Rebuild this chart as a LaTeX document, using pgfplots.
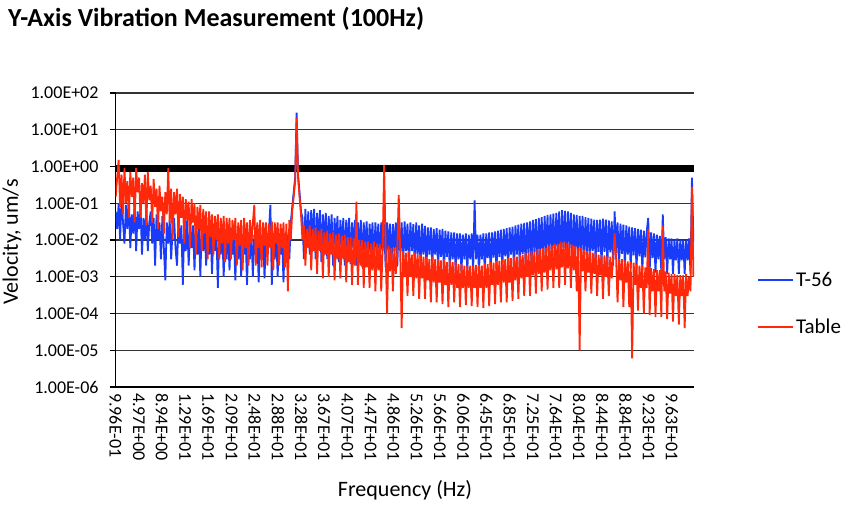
\documentclass[border=0pt]{standalone}
\usepackage{pgfplots}
\pgfplotsset{compat=1.18}
\usepackage{pgfplotstable}
\usepackage{fontspec}
\setmainfont{Carlito}
\definecolor{tblue}{RGB}{25,60,250}
\definecolor{tred}{RGB}{255,40,10}
\pgfplotstableread{
f b r
1.00 0.06 0.15
1.25 0.02 0.5
1.50 0.1 1.5
1.75 0.01 0.08
2.00 0.15 0.6
2.25 0.03 0.05
2.50 0.008 0.9
2.75 0.09 0.1
3.00 0.02 0.4
3.25 0.12 0.04
3.50 0.006 0.7
3.75 0.05 0.15
4.00 0.015 0.5
4.25 0.1 0.03
4.50 0.005 0.9
4.75 0.06 0.2
5.00 0.02 0.5
5.25 0.08 0.04
5.50 0.004 0.35
5.75 0.04 0.1
6.00 0.01 0.6
6.25 0.07 0.025
6.50 0.005 0.7
6.75 0.03 0.12
7.00 0.06 0.3
7.25 0.008 0.03
7.50 0.04 0.45
7.75 0.002 0.08
8.00 0.05 0.25
8.25 0.01 0.02
8.50 0.03 0.3
8.75 0.003 0.06
9.00 0.045 0.15
9.25 0.006 0.015
9.50 0.0008 0.2
9.75 0.03 0.05
10.00 0.008 0.9
10.25 0.035 0.03
10.50 0.003 0.25
10.75 0.02 0.01
11.00 0.04 0.2
11.25 0.006 0.05
11.50 0.002 0.25
11.75 0.03 0.012
12.00 0.008 0.18
12.25 0.025 0.04
12.50 0.0006 0.15
12.75 0.03 0.008
13.00 0.005 0.13
13.25 0.035 0.035
13.50 0.002 0.11
13.75 0.02 0.006
14.00 0.006 0.13
14.25 0.025 0.03
14.50 0.0015 0.1
14.75 0.03 0.004
15.00 0.004 0.08
15.25 0.02 0.02
15.50 0.001 0.09
15.75 0.025 0.005
16.00 0.005 0.07
16.25 0.02 0.015
16.50 0.002 0.06
16.75 0.022 0.003
17.00 0.004 0.06
17.25 0.025 0.012
17.50 0.0012 0.05
17.75 0.018 0.004
18.00 0.005 0.045
18.25 0.02 0.01
18.50 0.0005 0.05
18.75 0.015 0.003
19.00 0.004 0.04
19.25 0.02 0.008
19.50 0.001 0.045
19.75 0.016 0.0025
20.00 0.003 0.04
20.25 0.018 0.008
20.50 0.0015 0.04
20.75 0.02 0.003
21.00 0.004 0.035
21.25 0.016 0.01
21.50 0.0008 0.04
21.75 0.015 0.002
22.00 0.003 0.03
22.25 0.018 0.007
22.50 0.001 0.035
22.75 0.014 0.0015
23.00 0.004 0.04
23.25 0.016 0.006
23.50 0.0006 0.03
23.75 0.015 0.002
24.00 0.003 0.035
24.25 0.017 0.008
24.50 0.001 0.03
24.75 0.014 0.09
25.00 0.004 0.002
25.25 0.016 0.03
25.50 0.0007 0.006
25.75 0.015 0.035
26.00 0.003 0.0018
26.25 0.017 0.03
26.50 0.0009 0.007
26.75 0.014 0.03
27.00 0.004 0.002
27.25 0.016 0.028
27.50 0.09 0.006
27.75 0.0006 0.032
28.00 0.015 0.0015
28.25 0.003 0.03
28.50 0.016 0.008
28.75 0.001 0.03
29.00 0.015 0.002
29.25 0.004 0.028
29.50 0.014 0.006
29.75 0.0007 0.03
30.00 0.015 0.0018
30.25 0.004 0.028
30.50 0.014 0.0004
30.75 0.003 0.035
31.00 0.03 0.01
31.25 0.08 0.06
31.50 0.2 0.15
31.75 0.5 0.4
32.00 29 21
32.25 0.6 0.5
32.50 0.2 0.15
32.75 0.06 0.05
33.00 0.04 0.01
33.25 0.003 0.025
33.50 0.07 0.002
33.75 0.008 0.02
34.00 0.06 0.006
34.25 0.004 0.025
34.50 0.065 0.0015
34.75 0.01 0.02
35.00 0.07 0.005
35.25 0.003 0.022
35.50 0.055 0.0012
35.75 0.009 0.018
36.00 0.065 0.005
36.25 0.0025 0.02
36.50 0.05 0.0009
36.75 0.008 0.016
37.00 0.055 0.004
37.25 0.003 0.018
37.50 0.045 0.001
37.75 0.007 0.015
38.00 0.05 0.004
38.25 0.002 0.016
38.50 0.04 0.0008
38.75 0.007 0.014
39.00 0.045 0.003
39.25 0.0025 0.015
39.50 0.035 0.0009
39.75 0.006 0.013
40.00 0.04 0.003
40.25 0.002 0.014
40.50 0.035 0.0007
40.75 0.006 0.012
41.00 0.04 0.0025
41.25 0.0022 0.012
41.50 0.03 0.0006
41.75 0.006 0.011
42.00 0.035 0.002
42.25 0.002 0.11
42.50 0.03 0.0006
42.75 0.005 0.01
43.00 0.035 0.002
43.25 0.0018 0.01
43.50 0.03 0.0005
43.75 0.005 0.009
44.00 0.032 0.0018
44.25 0.002 0.009
44.50 0.028 0.0005
44.75 0.005 0.008
45.00 0.03 0.0015
45.25 0.0019 0.009
45.50 0.03 0.0004
45.75 0.005 0.008
46.00 0.028 0.0015
46.25 0.002 0.008
46.50 0.03 0.0004
46.75 0.005 0.007
47.00 0.028 1.1
47.25 0.0018 0.006
47.50 0.03 0.0001
47.75 0.005 0.007
48.00 0.028 0.0014
48.25 0.002 0.006
48.50 0.027 0.0004
48.75 0.005 0.006
49.00 0.03 0.0012
49.25 0.0019 0.005
49.50 0.028 0.17
49.75 0.005 0.005
50.00 0.03 0.00004
50.25 0.002 0.005
50.50 0.032 0.001
50.75 0.005 0.0045
51.00 0.028 0.0003
51.25 0.002 0.005
51.50 0.03 0.001
51.75 0.005 0.004
52.00 0.027 0.0003
52.25 0.0018 0.0045
52.50 0.03 0.0009
52.75 0.004 0.004
53.00 0.025 0.00025
53.25 0.0017 0.004
53.50 0.028 0.0009
53.75 0.004 0.0035
54.00 0.024 0.00025
54.25 0.0018 0.0035
54.50 0.022 0.0008
54.75 0.004 0.003
55.00 0.022 0.0002
55.25 0.0017 0.0035
55.50 0.02 0.0007
55.75 0.004 0.003
56.00 0.021 0.0002
56.25 0.0016 0.003
56.50 0.019 0.0007
56.75 0.0035 0.0028
57.00 0.02 0.00018
57.25 0.0015 0.003
57.50 0.018 0.0006
57.75 0.0035 0.0025
58.00 0.017 0.00015
58.25 0.0015 0.0028
58.50 0.016 0.0006
58.75 0.003 0.0025
59.00 0.016 0.0002
59.25 0.0014 0.0025
59.50 0.015 0.0005
59.75 0.003 0.0022
60.00 0.015 0.00015
60.25 0.0013 0.0022
60.50 0.014 0.0005
60.75 0.003 0.002
61.00 0.015 0.00017
61.25 0.0014 0.002
61.50 0.014 0.0005
61.75 0.003 0.002
62.00 0.015 0.00016
62.25 0.0013 0.002
62.50 0.12 0.0005
62.75 0.003 0.0021
63.00 0.014 0.00015
63.25 0.0013 0.0021
63.50 0.014 0.0005
63.75 0.003 0.002
64.00 0.015 0.00014
64.25 0.0013 0.0023
64.50 0.015 0.0005
64.75 0.0032 0.0022
65.00 0.016 0.00016
65.25 0.0014 0.0025
65.50 0.016 0.0006
65.75 0.0033 0.0024
66.00 0.017 0.00018
66.25 0.0015 0.0027
66.50 0.018 0.0006
66.75 0.0035 0.0027
67.00 0.019 0.0002
67.25 0.0015 0.003
67.50 0.02 0.0007
67.75 0.0036 0.003
68.00 0.021 0.0002
68.25 0.0016 0.0032
68.50 0.022 0.0007
68.75 0.004 0.0032
69.00 0.023 0.00022
69.25 0.0017 0.0035
69.50 0.025 0.0008
69.75 0.004 0.0035
70.00 0.026 0.00025
70.25 0.0017 0.004
70.50 0.028 0.0009
70.75 0.0042 0.004
71.00 0.029 0.0003
71.25 0.0018 0.0045
71.50 0.03 0.001
71.75 0.0045 0.0045
72.00 0.032 0.0003
72.25 0.0019 0.005
72.50 0.035 0.0011
72.75 0.0048 0.005
73.00 0.037 0.00035
73.25 0.002 0.0055
73.50 0.04 0.0012
73.75 0.005 0.0055
74.00 0.042 0.0004
74.25 0.0021 0.006
74.50 0.045 0.0013
74.75 0.0052 0.006
75.00 0.048 0.00045
75.25 0.0022 0.007
75.50 0.05 0.0015
75.75 0.0055 0.007
76.00 0.052 0.0005
76.25 0.0024 0.008
76.50 0.055 0.0016
76.75 0.006 0.008
77.00 0.06 0.0005
77.25 0.0025 0.009
77.50 0.065 0.0018
77.75 0.006 0.009
78.00 0.062 0.0006
78.25 0.0025 0.0085
78.50 0.06 0.0017
78.75 0.0058 0.008
79.00 0.055 0.0005
79.25 0.0023 0.0075
79.50 0.05 0.0015
79.75 0.0055 0.007
80.00 0.048 0.0004
80.25 0.0022 0.006
80.50 0.045 0.00001
80.75 0.0052 0.006
81.00 0.045 0.0014
81.25 0.002 0.0055
81.50 0.042 0.0004
81.75 0.005 0.005
82.00 0.04 0.0013
82.25 0.002 0.005
82.50 0.038 0.00035
82.75 0.005 0.0045
83.00 0.036 0.0012
83.25 0.002 0.0045
83.50 0.035 0.0003
83.75 0.0048 0.004
84.00 0.036 0.0011
84.25 0.002 0.004
84.50 0.038 0.00025
84.75 0.0048 0.0038
85.00 0.036 0.001
85.25 0.0021 0.0036
85.50 0.034 0.0003
85.75 0.0046 0.0035
86.00 0.032 0.0009
86.25 0.002 0.0033
86.50 0.06 0.015
86.75 0.0045 0.0032
87.00 0.03 0.0002
87.25 0.0019 0.003
87.50 0.028 0.0008
87.75 0.0042 0.003
88.00 0.026 0.00015
88.25 0.0018 0.0028
88.50 0.025 0.0007
88.75 0.004 0.0026
89.00 0.023 0.00015
89.25 0.0017 0.0025
89.50 0.022 0.000006
89.75 0.0038 0.0024
90.00 0.021 0.0006
90.25 0.0016 0.0022
90.50 0.02 0.00012
90.75 0.0036 0.002
91.00 0.019 0.0005
91.25 0.0015 0.002
91.50 0.018 0.0001
91.75 0.0034 0.0018
92.00 0.017 0.0005
92.25 0.04 0.02
92.50 0.0014 0.00009
92.75 0.016 0.0017
93.00 0.0032 0.0004
93.25 0.015 0.0016
93.50 0.0013 0.00008
93.75 0.014 0.0015
94.00 0.003 0.0004
94.25 0.013 0.0015
94.50 0.0013 0.00008
94.75 0.05 0.025
95.00 0.003 0.0004
95.25 0.012 0.0014
95.50 0.0012 0.00007
95.75 0.011 0.0013
96.00 0.003 0.00035
96.25 0.011 0.0012
96.50 0.0012 0.00006
96.75 0.01 0.0012
97.00 0.0028 0.0003
97.25 0.011 0.0011
97.50 0.0012 0.00005
97.75 0.01 0.0011
98.00 0.0028 0.0003
98.25 0.01 0.0011
98.50 0.0012 0.00004
98.75 0.01 0.0012
99.00 0.0028 0.0003
99.25 0.011 0.001
99.50 0.0012 0.0004
99.75 0.5 0.28
100.00 0.009 0.001
}\vib
\begin{document}
\begin{tikzpicture}[x=1pt,y=1pt]
\useasboundingbox (0,0) rectangle (858,511);
\node[anchor=base west, inner sep=0, font=\fontsize{26}{30}\selectfont\bfseries] at (8,484) {Y-Axis Vibration Measurement (100Hz)};
\node[rotate=90, inner sep=0, font=\fontsize{22}{26}\selectfont] at (12,269) {Velocity, um/s};
\node[inner sep=0, font=\fontsize{22}{26}\selectfont] at (405,21) {Frequency (Hz)};
\begin{axis}[
  at={(115.7pt,124pt)}, anchor=south west,
  scale only axis, width=578.3pt, height=294pt,
  xmin=0.996, xmax=100.1,
  ymode=log, ymin=1e-6, ymax=100,
  axis x line*=bottom, axis y line*=left,
  axis line style={black, line width=1.2pt, -},
  ymajorgrids, grid style={black!80, line width=1.2pt},
  tick align=outside, major tick length=6pt,
  xtick style={draw=none},
  ytick style={black, line width=1.2pt},
  yminorticks=false,
  ytick={1e-6,1e-5,1e-4,1e-3,1e-2,1e-1,1,10,100},
  yticklabels={1.00E-06,1.00E-05,1.00E-04,1.00E-03,1.00E-02,1.00E-01,1.00E+00,1.00E+01,1.00E+02},
  yticklabel style={font=\fontsize{18}{20}\selectfont, anchor=east, inner sep=0pt, xshift=-11pt},
  xtick={0.996,4.967,8.938,12.909,16.880,20.851,24.822,28.793,32.764,36.735,40.706,44.677,48.648,52.619,56.590,60.561,64.532,68.503,72.474,76.445,80.416,84.387,88.358,92.329,96.300},
  xticklabels={9.96E-01,4.97E+00,8.94E+00,1.29E+01,1.69E+01,2.09E+01,2.48E+01,2.88E+01,3.28E+01,3.67E+01,4.07E+01,4.47E+01,4.86E+01,5.26E+01,5.66E+01,6.06E+01,6.45E+01,6.85E+01,7.25E+01,7.64E+01,8.04E+01,8.44E+01,8.84E+01,9.23E+01,9.63E+01},
  xticklabel style={font=\fontsize{18}{20}\selectfont, rotate=-90, anchor=west, inner sep=0pt},
  legend style={draw=none, fill=none, at={(1.109,0.284)}, anchor=west, font=\fontsize{21}{24}\selectfont, row sep=27pt, inner sep=0pt},
  legend cell align=left,
  legend image code/.code={\draw[#1, line width=1.8pt] (0pt,0pt) -- (35pt,0pt);},
]
\addplot[black, line width=7pt, forget plot] coordinates {(0.996,0.89) (100.1,0.89)};
\addplot[tblue, line width=1.8pt, line join=bevel] table[x=f, y=b] {\vib};
\addlegendentry{T-56}
\addplot[tred, line width=1.8pt, line join=bevel] table[x=f, y=r] {\vib};
\addlegendentry{Table}
\end{axis}
\end{tikzpicture}
\end{document}
